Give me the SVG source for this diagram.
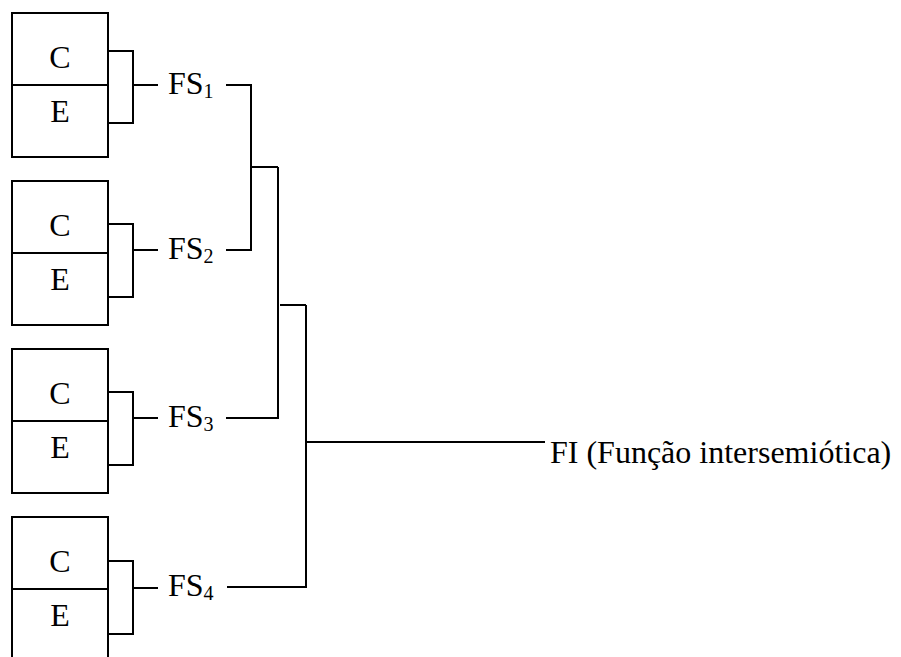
<svg xmlns="http://www.w3.org/2000/svg" width="901" height="657" viewBox="0 0 901 657">
  <style>
    .box { fill: none; stroke: #000; stroke-width: 2; }
    .ln { fill: none; stroke: #000; stroke-width: 2; stroke-linecap: butt; stroke-linejoin: miter; }
    .t { font-family: "Liberation Serif", "Times New Roman", serif; font-size: 32px; fill: #000; }
    .sub { font-size: 20px; }
  </style>
  <rect width="901" height="657" fill="#fff"/>

  <!-- sign units: content (C) over expression (E), each joined into a semiotic function -->
  <g id="unit1">
    <rect class="box" x="12" y="13" width="96" height="144"/>
    <line class="ln" x1="12" y1="85" x2="108" y2="85"/>
    <text class="t" x="60" y="68" text-anchor="middle">C</text>
    <text class="t" x="60" y="122" text-anchor="middle">E</text>
    <polyline class="ln" points="108,51 133,51 133,123 108,123"/>
    <line class="ln" x1="133" y1="85" x2="158" y2="85"/>
    <text class="t" x="168" y="94">FS<tspan class="sub" dy="4">1</tspan></text>
  </g>

  <g id="unit2">
    <rect class="box" x="12" y="181" width="96" height="144"/>
    <line class="ln" x1="12" y1="253" x2="108" y2="253"/>
    <text class="t" x="60" y="236" text-anchor="middle">C</text>
    <text class="t" x="60" y="290" text-anchor="middle">E</text>
    <polyline class="ln" points="108,224 133,224 133,297 108,297"/>
    <line class="ln" x1="133" y1="250" x2="158" y2="250"/>
    <text class="t" x="168" y="259">FS<tspan class="sub" dy="4">2</tspan></text>
  </g>

  <g id="unit3">
    <rect class="box" x="12" y="349" width="96" height="144"/>
    <line class="ln" x1="12" y1="421" x2="108" y2="421"/>
    <text class="t" x="60" y="404" text-anchor="middle">C</text>
    <text class="t" x="60" y="458" text-anchor="middle">E</text>
    <polyline class="ln" points="108,392 133,392 133,465 108,465"/>
    <line class="ln" x1="133" y1="418" x2="158" y2="418"/>
    <text class="t" x="168" y="427">FS<tspan class="sub" dy="4">3</tspan></text>
  </g>

  <g id="unit4">
    <rect class="box" x="12" y="517" width="96" height="144"/>
    <line class="ln" x1="12" y1="589" x2="108" y2="589"/>
    <text class="t" x="60" y="572" text-anchor="middle">C</text>
    <text class="t" x="60" y="626" text-anchor="middle">E</text>
    <polyline class="ln" points="108,561 133,561 133,634 108,634"/>
    <line class="ln" x1="133" y1="588" x2="158" y2="588"/>
    <text class="t" x="168" y="596">FS<tspan class="sub" dy="4">4</tspan></text>
  </g>

  <!-- result of the combined functions -->
  <g id="fi">
    <text class="t" x="550" y="463">FI (Função intersemiótica)</text>
  </g>

  <!-- tree joining FS1..FS4 into FI -->
  <g id="connectors">
    <polyline class="ln" points="226,85 251,85 251,250 226,250"/>
    <line class="ln" x1="251" y1="167" x2="278" y2="167"/>
    <polyline class="ln" points="278,167 278,418 226,418"/>
    <line class="ln" x1="280" y1="305" x2="306" y2="305"/>
    <polyline class="ln" points="306,305 306,587 227,587"/>
    <line class="ln" x1="306" y1="442" x2="545" y2="442"/>
  </g>
</svg>
